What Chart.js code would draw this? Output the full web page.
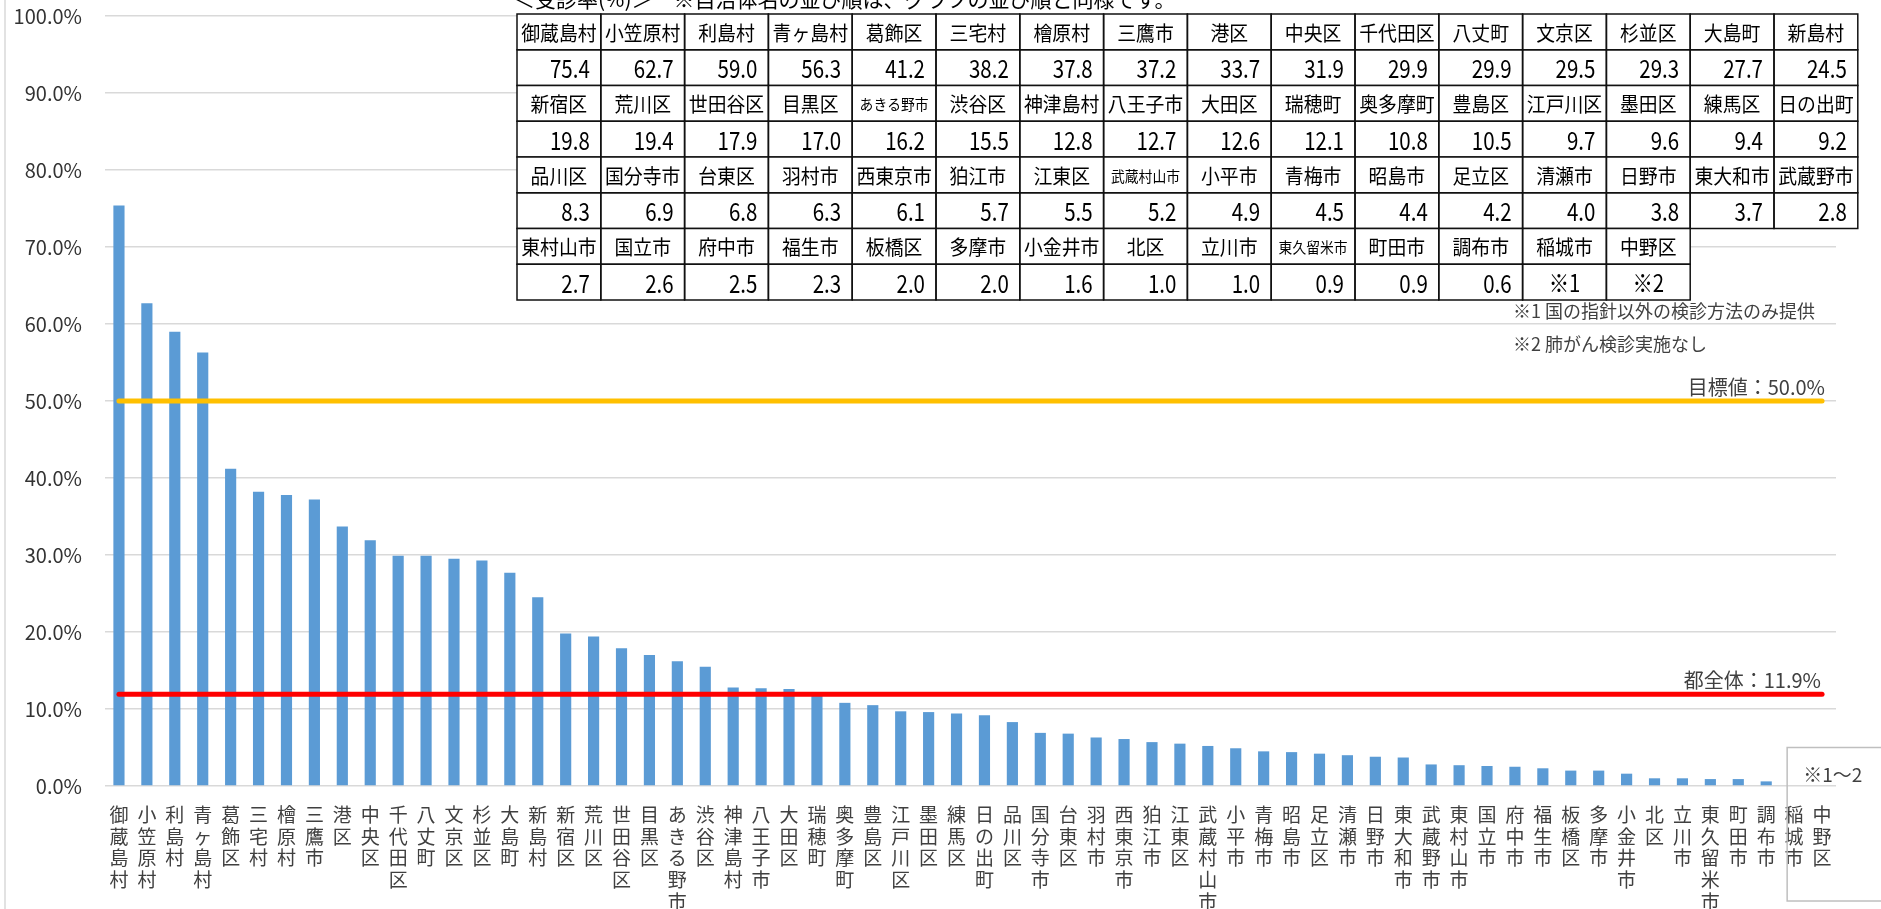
<!DOCTYPE html>
<html>
<head>
  <meta charset="utf-8">
  <title>受診率</title>
  <script src="https://cdn.jsdelivr.net/npm/chart.js"></script>
  <style>
    html, body { margin: 0; padding: 0; background: #fff; }
    #wrap { width: 1881px; height: 909px; position: relative; }
  </style>
</head>
<body>
<div id="wrap"><canvas id="rateChart"></canvas></div>
<script>
  const categories = [
    '御蔵島村', '小笠原村', '利島村', '青ヶ島村', '葛飾区', '三宅村', '檜原村', '三鷹市',
    '港区', '中央区', '千代田区', '八丈町', '文京区', '杉並区', '大島町', '新島村',
    '新宿区', '荒川区', '世田谷区', '目黒区', 'あきる野市', '渋谷区', '神津島村', '八王子市',
    '大田区', '瑞穂町', '奥多摩町', '豊島区', '江戸川区', '墨田区', '練馬区', '日の出町',
    '品川区', '国分寺市', '台東区', '羽村市', '西東京市', '狛江市', '江東区', '武蔵村山市',
    '小平市', '青梅市', '昭島市', '足立区', '清瀬市', '日野市', '東大和市', '武蔵野市',
    '東村山市', '国立市', '府中市', '福生市', '板橋区', '多摩市', '小金井市', '北区',
    '立川市', '東久留米市', '町田市', '調布市', '稲城市', '中野区'
  ];
  const rates = [
    75.4, 62.7, 59.0, 56.3, 41.2, 38.2, 37.8, 37.2,
    33.7, 31.9, 29.9, 29.9, 29.5, 29.3, 27.7, 24.5,
    19.8, 19.4, 17.9, 17.0, 16.2, 15.5, 12.8, 12.7,
    12.6, 12.1, 10.8, 10.5, 9.7, 9.6, 9.4, 9.2,
    8.3, 6.9, 6.8, 6.3, 6.1, 5.7, 5.5, 5.2,
    4.9, 4.5, 4.4, 4.2, 4.0, 3.8, 3.7, 2.8,
    2.7, 2.6, 2.5, 2.3, 2.0, 2.0, 1.6, 1.0,
    1.0, 0.9, 0.9, 0.6, null, null
  ];
  const missingMarks = { '稲城市': '※1', '中野区': '※2' };
  const targetRate = 50.0;
  const tokyoRate = 11.9;
  const targetLabel = '目標値：50.0%';
  const tokyoLabel = '都全体：11.9%';
  const tableTitle = '＜受診率(%)＞　※自治体名の並び順は、グラフの並び順と同様です。';
  const footnotes = ['※1 国の指針以外の検診方法のみ提供', '※2 肺がん検診実施なし'];
  const boxNote = '※1〜2';

  const FONT = '"Noto Sans CJK JP", "Noto Sans", sans-serif';
  Chart.defaults.font.family = FONT;

  function drawNarrow(ctx, text, x, y, size, sx, align) {
    ctx.save();
    ctx.translate(x, y);
    ctx.scale(sx, 1);
    ctx.font = size + 'px ' + FONT;
    ctx.textAlign = align;
    ctx.textBaseline = 'middle';
    ctx.fillStyle = '#000';
    ctx.fillText(text, 0, 0);
    ctx.restore();
  }

  // table of values in the upper right
  function drawTable(ctx) {
    const left = 517, top = 14, colW = 83.8, rowH = 35.75, perRow = 16;
    ctx.save();
    ctx.fillStyle = '#000';
    ctx.font = '21px ' + FONT;
    ctx.textAlign = 'left';
    ctx.textBaseline = 'middle';
    ctx.fillText(tableTitle, 514, -1);

    ctx.strokeStyle = '#111';
    ctx.lineWidth = 1.5;
    const rows = Math.ceil(categories.length / perRow);
    for (let r = 0; r < rows; r++) {
      const start = r * perRow;
      const n = Math.min(perRow, categories.length - start);
      const y0 = top + r * 2 * rowH;
      ctx.fillStyle = '#fff';
      ctx.fillRect(left, y0, n * colW, 2 * rowH);
      for (let c = 0; c < n; c++) {
        const i = start + c;
        const x = left + c * colW;
        ctx.strokeRect(x, y0, colW, rowH);
        ctx.strokeRect(x, y0 + rowH, colW, rowH);
        const name = categories[i];
        const small = name.length >= 5;
        drawNarrow(ctx, name, x + colW / 2, y0 + rowH / 2 + 1, small ? 15 : 20.5, 0.92, 'center');
        const v = rates[i];
        if (v == null) {
          drawNarrow(ctx, missingMarks[name], x + colW / 2, y0 + rowH * 1.5 + 1, 24, 0.85, 'center');
        } else {
          drawNarrow(ctx, v.toFixed(1), x + colW - 11, y0 + rowH * 1.5 + 1, 25, 0.82, 'right');
        }
      }
    }
    ctx.restore();
  }

  const extras = {
    id: 'extras',
    beforeDraw(chart) {
      const ctx = chart.ctx;
      ctx.save();
      ctx.strokeStyle = '#d9d9d9';
      ctx.lineWidth = 1.5;
      ctx.beginPath();
      ctx.moveTo(5, 0);
      ctx.lineTo(5, chart.height);
      ctx.stroke();
      ctx.restore();
    },
    afterDatasetsDraw(chart) {
      const ctx = chart.ctx;
      const xs = chart.scales.x, ys = chart.scales.y;
      const lastX = xs.getPixelForValue(categories.length - 1);
      ctx.save();
      ctx.fillStyle = '#404040';
      ctx.font = '20px ' + FONT;
      ctx.textAlign = 'right';
      ctx.textBaseline = 'bottom';
      ctx.fillText(targetLabel, lastX + 3, ys.getPixelForValue(targetRate) - 4);
      ctx.fillText(tokyoLabel, lastX - 1, ys.getPixelForValue(tokyoRate) - 4);

      ctx.font = '18px ' + FONT;
      ctx.textAlign = 'left';
      ctx.textBaseline = 'middle';
      ctx.fillText(footnotes[0], 1513, 311);
      ctx.fillText(footnotes[1], 1513, 344);

      // box marking the municipalities without a value
      const step = xs.getPixelForValue(1) - xs.getPixelForValue(0);
      const bx = xs.getPixelForValue(categories.length - 2) - step * 0.25;
      const by = ys.getPixelForValue(5);
      ctx.strokeStyle = '#bfbfbf';
      ctx.lineWidth = 1.5;
      ctx.strokeRect(bx, by, chart.width + 20 - bx, 901 - by);
      ctx.fillStyle = '#404040';
      ctx.font = '19px ' + FONT;
      ctx.fillText(boxNote, bx + 16, by + 27);
      ctx.restore();

      drawTable(ctx);
    }
  };

  const lastCat = categories[categories.length - 1];
  new Chart(document.getElementById('rateChart'), {
    type: 'bar',
    data: {
      labels: categories,
      datasets: [
        {
          type: 'line',
          data: [{ x: categories[0], y: targetRate }, { x: lastCat, y: targetRate }],
          borderColor: '#ffc000',
          borderWidth: 5,
          borderCapStyle: 'round',
          pointRadius: 0,
          fill: false,
          order: 1
        },
        {
          type: 'line',
          data: [{ x: categories[0], y: tokyoRate }, { x: lastCat, y: tokyoRate }],
          borderColor: '#ff0000',
          borderWidth: 5,
          borderCapStyle: 'round',
          pointRadius: 0,
          fill: false,
          order: 1
        },
        {
          type: 'bar',
          data: rates,
          backgroundColor: '#5b9bd5',
          borderWidth: 0,
          categoryPercentage: 1.0,
          barPercentage: 0.4,
          order: 2
        }
      ]
    },
    options: {
      responsive: true,
      maintainAspectRatio: false,
      animation: false,
      layout: { padding: { top: 16, right: 45, left: 0, bottom: 0 } },
      plugins: { legend: { display: false }, tooltip: { enabled: false } },
      scales: {
        x: {
          grid: { display: false },
          border: { display: false },
          afterFit(scale) { scale.height = 123; },
          ticks: {
            autoSkip: false,
            maxRotation: 0,
            minRotation: 0,
            padding: 10,
            color: '#404040',
            font: { size: 19, lineHeight: 1.14 },
            callback: (v, i) => Array.from(categories[i])
          }
        },
        y: {
          min: 0,
          max: 100,
          grid: { color: '#d9d9d9', lineWidth: 1.5, drawTicks: false },
          border: { display: false },
          afterFit(scale) {
            scale.width = 105;
            scale.paddingTop = 0;
            scale.paddingBottom = 0;
          },
          ticks: {
            stepSize: 10,
            padding: 23,
            color: '#333',
            font: { size: 20 },
            callback: v => v.toFixed(1) + '%'
          }
        }
      }
    },
    plugins: [extras]
  });
</script>
</body>
</html>
